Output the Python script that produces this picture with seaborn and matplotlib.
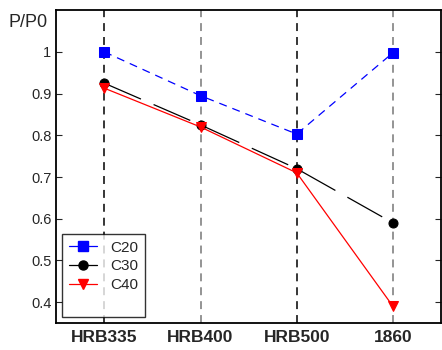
import matplotlib
matplotlib.use("Agg")
import matplotlib.pyplot as plt
import seaborn as sns
import numpy as np
from matplotlib.lines import Line2D
from matplotlib.ticker import FuncFormatter

steel_types = ["HRB335", "HRB400", "HRB500", "1860"]
c20 = [1.0, 0.895, 0.803, 0.998]
c30 = [0.925, 0.825, 0.720, 0.590]
c40 = [0.913, 0.820, 0.710, 0.390]
y_ticks = [0.4, 0.5, 0.6, 0.7, 0.8, 0.9, 1.0]

sns.set_style("ticks")
plt.rcParams["font.family"] = ["Liberation Sans", "DejaVu Sans"]

fig = plt.figure(figsize=(4.42, 3.5), dpi=100)
ax = fig.add_axes([0.127, 0.077, 0.871, 0.894])

x = np.arange(len(steel_types))

# vertical dashed guide lines at each category
for i, xi in enumerate(x):
    ax.axvline(xi, color="black" if i % 2 == 0 else "#777777", linestyle=(0, (5.2, 3.9)),
               linewidth=1.1, zorder=1)

sns.lineplot(x=x, y=c20, ax=ax, color="blue", linestyle=(0, (6.4, 4.8)), linewidth=0.9,
             marker="s", markersize=6.5, markeredgecolor="blue", zorder=3)
sns.lineplot(x=x, y=c30, ax=ax, color="black", linestyle=(0, (32, 11)), linewidth=0.9,
             marker="o", markersize=6.5, markeredgecolor="black", zorder=3)
sns.lineplot(x=x, y=c40, ax=ax, color="red", linestyle="-", linewidth=0.9,
             marker="v", markersize=7.5, markeredgecolor="red", zorder=4)

ax.set_xlim(-0.5, 3.5)
ax.set_ylim(0.35, 1.1)
ax.set_xticks(x)
ax.set_xticklabels(steel_types, fontweight="bold", fontsize=12.5)
ax.set_yticks(y_ticks)
ax.yaxis.set_major_formatter(FuncFormatter(lambda v, p: f"{v:g}"))
ax.tick_params(axis="y", direction="in", length=4, labelsize=10.5, right=True, width=0.8)
ax.tick_params(axis="x", direction="in", length=0, pad=5)
for side in ["left", "bottom", "top", "right"]:
    ax.spines[side].set_visible(True)
    ax.spines[side].set_linewidth(1.3)
    ax.spines[side].set_color("black")

fig.text(0.02, 0.937, "P/P0", fontsize=13, ha="left", va="center")

handles = [
    Line2D([], [], color="blue", linestyle="-", linewidth=0.9, marker="s", markersize=6.5),
    Line2D([], [], color="black", linestyle="-", linewidth=0.9, marker="o", markersize=6.5),
    Line2D([], [], color="red", linestyle="-", linewidth=0.9, marker="v", markersize=7.5),
    Line2D([], [], color="none"),
]
leg = ax.legend(handles, ["C20", "C30", "C40", " "], loc="lower left",
                bbox_to_anchor=(0.016, 0.018), fontsize=11, frameon=True, fancybox=False,
                edgecolor="black", handlelength=1.8, borderpad=0.45, labelspacing=0.3,
                handletextpad=0.9, borderaxespad=0)
leg.get_frame().set_linewidth(1.0)

fig.savefig("out.png", dpi=100)
plt.close(fig)
